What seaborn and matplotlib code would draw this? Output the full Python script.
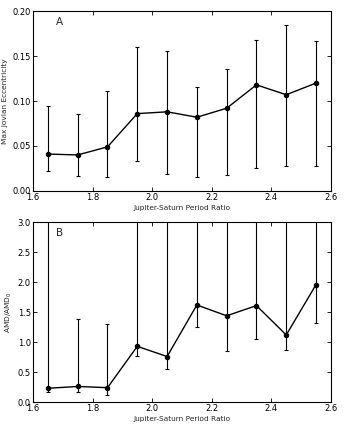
import matplotlib
matplotlib.use("Agg")
import matplotlib.pyplot as plt
import numpy as np
import pandas as pd
import seaborn as sns

# bin centres of the Jupiter-Saturn period ratio
period_ratio = [1.65, 1.75, 1.85, 1.95, 2.05, 2.15, 2.25, 2.35, 2.45, 2.55]

# panel A: max Jovian eccentricity (median, lower and upper bounds)
ecc_mid = [0.041, 0.040, 0.049, 0.086, 0.088, 0.082, 0.092, 0.118, 0.107, 0.120]
ecc_low = [0.022, 0.017, 0.015, 0.033, 0.019, 0.016, 0.018, 0.025, 0.028, 0.028]
ecc_high = [0.094, 0.086, 0.111, 0.160, 0.156, 0.116, 0.136, 0.168, 0.185, 0.167]

# panel B: AMD / AMD_0 (upper bounds run off the top of the plot)
amd_mid = [0.23, 0.26, 0.24, 0.93, 0.76, 1.62, 1.44, 1.61, 1.12, 1.96]
amd_low = [0.17, 0.17, 0.12, 0.77, 0.56, 1.26, 0.85, 1.06, 0.87, 1.32]
amd_high = [3.6, 1.38, 1.30, 3.8, 4.2, 3.5, 3.9, 3.4, 4.5, 3.3]

sns.set_style("ticks")
plt.rcParams.update({
    "font.family": ["DejaVu Sans"],
    "font.size": 5.3,
    "xtick.labelsize": 6,
    "ytick.labelsize": 6,
    "xtick.direction": "in",
    "ytick.direction": "in",
    "xtick.top": True,
    "ytick.right": True,
    "xtick.major.size": 3,
    "ytick.major.size": 3,
    "xtick.major.width": 0.6,
    "ytick.major.width": 0.6,
    "xtick.major.pad": 1.5,
    "ytick.major.pad": 1.5,
    "axes.edgecolor": "black",
    "axes.linewidth": 0.8,
    "xtick.color": "black",
    "ytick.color": "black",
})

fig, (ax1, ax2) = plt.subplots(2, 1, figsize=(3.44, 4.30), dpi=100)
fig.subplots_adjust(left=0.096, right=0.962, top=0.974, bottom=0.065, hspace=0.175)


def panel(ax, mid, low, high, ylim, yticks, ylabel, tag):
    df = pd.DataFrame({"x": period_ratio, "y": mid})
    yerr = [np.array(mid) - np.array(low), np.array(high) - np.array(mid)]
    ax.errorbar(period_ratio, mid, yerr=yerr, fmt="none", ecolor="black",
                elinewidth=0.8, capsize=1.5, capthick=0.8)
    sns.lineplot(data=df, x="x", y="y", ax=ax, color="black", linewidth=1.0,
                 marker="o", markersize=3.2, markeredgecolor="black")
    ax.set_xlim(1.6, 2.6)
    ax.set_ylim(*ylim)
    ax.set_xticks([1.6, 1.8, 2.0, 2.2, 2.4, 2.6])
    ax.set_yticks(yticks)
    ax.set_xlabel("Jupiter-Saturn Period Ratio", labelpad=2)
    ax.set_ylabel(ylabel, labelpad=3)
    ax.text(0.088, 0.94, tag, transform=ax.transAxes, fontsize=7.5,
            ha="center", va="center")


panel(ax1, ecc_mid, ecc_low, ecc_high, (0, 0.2),
      [0.0, 0.05, 0.10, 0.15, 0.20], "Max Jovian Eccentricity", "A")
ax1.set_yticklabels(["0.00", "0.05", "0.10", "0.15", "0.20"])
panel(ax2, amd_mid, amd_low, amd_high, (0, 3.0),
      [0.0, 0.5, 1.0, 1.5, 2.0, 2.5, 3.0], "AMD/AMD$_0$", "B")
ax2.set_yticklabels(["0.0", "0.5", "1.0", "1.5", "2.0", "2.5", "3.0"])

fig.savefig("out.png", dpi=100, facecolor="white")
